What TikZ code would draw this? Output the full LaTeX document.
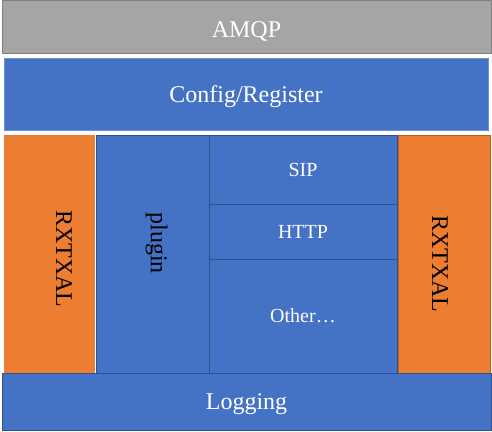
\documentclass[tikz,border=0pt]{standalone}
\usepackage{fontspec}
\setmainfont{Liberation Serif}
\definecolor{amqpgray}{HTML}{A5A5A5}
\definecolor{amqpline}{HTML}{7F7F7F}
\definecolor{layerblue}{HTML}{4472C4}
\definecolor{layerline}{HTML}{2F528F}
\definecolor{configline}{HTML}{6A92D8}
\definecolor{rxorange}{HTML}{ED7D31}
\definecolor{rxline}{HTML}{B85F22}
\begin{document}
\begin{tikzpicture}[x=1pt,y=-1pt,
    block/.style={rectangle,anchor=north west,inner sep=0pt,outer sep=0pt,line width=1pt,
        text depth=0pt,font=\fontsize{24}{28}\selectfont},
    blueblock/.style={block,fill=\LAYERCOLOR,draw=layerline,text=white},
    protoblock/.style={blueblock,minimum width=188pt,font=\fontsize{20}{24}\selectfont},
    rxblock/.style={block,fill=\RXCOLOR,minimum width=91pt,minimum height=238pt},
    sidetext/.style={rotate=-90,text=black,font=\fontsize{24}{28}\selectfont}]

\def\BACKGROUND{white}
\def\LAYERCOLOR{layerblue}
\def\RXCOLOR{rxorange}
	\useasboundingbox (0,0) rectangle (492,431);
	\fill[\BACKGROUND] (0,0) rectangle (492,431);
	% top layers
	\node[block,fill=amqpgray,draw=amqpline,text=white,minimum width=489pt,minimum height=53pt,text height=21pt] (amqp) at (2,0.5) {AMQP};
	\node[blueblock,draw=configline,minimum width=484pt,minimum height=72pt] (config) at (4,58) {Config/Register};
	% middle row
	\node[rxblock,draw=\RXCOLOR,minimum width=90pt,label={[xshift=15pt,yshift=-5pt,sidetext]center:RXTXAL}] (rxleft) at (4,135) {};
	\node[blueblock,minimum width=113pt,minimum height=238pt,label={[xshift=4pt,yshift=11pt,sidetext]center:plugin}] (plugin) at (96,135) {};
	\node[protoblock,minimum height=69pt] (sip) at (209,135) {SIP};
	\node[protoblock,minimum height=55pt] (http) at (209,204) {HTTP};
	\node[protoblock,minimum height=114pt] (other) at (209,259) {Other\ldots};
	\node[rxblock,draw=rxline,minimum width=92pt,label={[xshift=-4pt,yshift=-10pt,sidetext]center:RXTXAL}] (rxright) at (398,135) {};
	% bottom layer
	\node[blueblock,minimum width=489pt,minimum height=57pt] (logging) at (2,373) {Logging};

\end{tikzpicture}
\end{document}
